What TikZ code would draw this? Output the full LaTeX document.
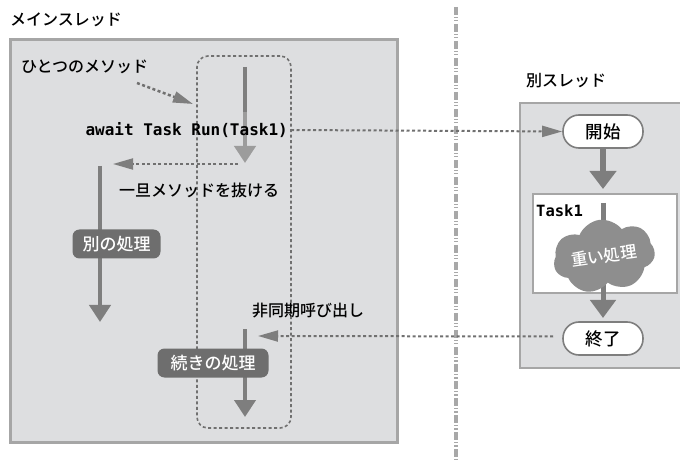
\documentclass[tikz,border=0pt]{standalone}
\usepackage{fontspec}
\setmainfont{Noto Sans CJK JP Medium}
\setmonofont{DejaVu Sans Mono}
\usetikzlibrary{arrows.meta,shapes.symbols}
\definecolor{boxfill}{HTML}{DDDEE0}
\definecolor{boxline}{HTML}{A6A6A6}
\definecolor{arrowgray}{HTML}{7E7E7E}
\definecolor{arrowlight}{HTML}{9C9C9C}
\definecolor{darknode}{HTML}{6E6E6E}
\definecolor{dotgray}{HTML}{707070}
\definecolor{cloudgray}{HTML}{8E8E8E}
\definecolor{divgray}{HTML}{A8A8A8}
\tikzset{
  lbl/.style={font=\fontsize{16}{18}\selectfont, inner sep=0pt, anchor=west},
  container/.style={draw=boxline, fill=boxfill, inner sep=0pt},
  flow/.style={line width=4.5pt, draw=arrowgray, -{Triangle[length=17pt,width=21pt]}},
  flowthick/.style={line width=6pt, draw=arrowgray, -{Triangle[length=18pt,width=26pt]}},
  dotline/.style={line width=2pt, draw=dotgray, dash pattern=on 3pt off 2.5pt},
  dotarrow/.style={dotline, -{Triangle[length=20pt,width=11pt,fill=arrowgray,color=arrowgray]}},
  darkbox/.style={fill=darknode, text=white, rounded corners=7pt, font=\fontsize{17}{19}\selectfont, inner sep=0pt},
  endpoint/.style={draw=arrowgray, fill=white, line width=1.6pt, rounded corners=16pt, minimum width=80pt, minimum height=33pt, inner sep=0pt, font=\fontsize{17.5}{19}\selectfont},
}
\begin{document}
\begin{tikzpicture}[x=1pt,y=-1pt]
\useasboundingbox (0,0) rectangle (680,462);
% divider
\coordinate (d1) at (456,7);
\coordinate (d2) at (456,462);
\draw[divgray, line width=3.5pt, dash pattern=on 8pt off 1.8pt on 1.2pt off 2pt on 1.5pt off 2.5pt] (d1) -- (d2);

% main thread
\node[lbl] (mainttl) at (10,20) {メインスレッド};
\node[container, line width=3pt, minimum width=387pt, minimum height=402pt] (mainbox) at (203.5,241) {};
\node[draw=dotgray, line width=1.6pt, dash pattern=on 3pt off 2.5pt, rounded corners=11pt, minimum width=94pt, minimum height=372pt, inner sep=0pt] (method) at (244,242) {};
\node[lbl] (methodlbl) at (21,67) {ひとつのメソッド};
\coordinate (ma1) at (137,83);
\coordinate (ma2) at (193,104);
\draw[dotarrow, line width=2.5pt] (ma1) -- (ma2);

% await arrow
\coordinate (m1) at (245,67);
\coordinate (mm) at (245,112);
\coordinate (m2) at (245,163);
\draw[line width=4.5pt, draw=arrowgray] (m1) -- (mm);
\draw[line width=4.5pt, draw=arrowlight, -{Triangle[length=17pt,width=21pt]}] (mm) -- (m2);
\node[font=\ttfamily\bfseries\fontsize{16}{18}\selectfont, anchor=east, inner sep=0pt] (await) at (288,130) {await Task Run(Task1)};

% exit
\coordinate (ex1) at (238,164);
\coordinate (ex2) at (113,164);
\draw[dotarrow] (ex1) -- (ex2);
\node[lbl] (leave) at (119,190) {一旦メソッドを抜ける};

% other processing
\coordinate (l1) at (100,166);
\coordinate (l2) at (100,322);
\draw[flow] (l1) -- (l2);
\node[darkbox, minimum width=88pt, minimum height=29pt] (other) at (116.5,244) {別の処理};

% async callback
\node[lbl] (asynclbl) at (252,311) {非同期呼び出し};
\coordinate (c1) at (245,329);
\coordinate (c2) at (245,417);
\draw[flow] (c1) -- (c2);
\node[darkbox, minimum width=111pt, minimum height=29pt] (cont) at (213,363) {続きの処理};

% other thread
\node[lbl] (subttl) at (526,81) {別スレッド};
\node[container, line width=1.6pt, minimum width=166pt, minimum height=265pt] (subbox) at (603,235.5) {};
\node[endpoint] (start) at (603,131.5) {開始};
\node[draw=boxline, fill=white, line width=1.6pt, minimum width=144pt, minimum height=99pt, inner sep=0pt] (task) at (605,243.5) {};
\node[font=\ttfamily\bfseries\fontsize{15.5}{17}\selectfont, anchor=west, inner sep=0pt] (tasklbl) at (536,211) {Task1};
\node[endpoint] (end) at (603,338.5) {終了};

\coordinate (s1) at (603,148);
\coordinate (s2) at (603,189);
\draw[flowthick] (s1) -- (s2);
\coordinate (t1) at (603,203);
\coordinate (t2) at (603,318);
\draw[line width=5pt, draw=arrowgray, -{Triangle[length=18pt,width=25pt]}] (t1) -- (t2);
\node[cloud, cloud puffs=7, cloud puff arc=120, aspect=1.7, fill=cloudgray, minimum width=102pt, minimum height=60pt, inner sep=0pt, rotate=8, text=white, font=\fontsize{16.5}{18}\selectfont] (heavy) at (604,256) {重い処理};

% cross-thread connectors
\draw[dotarrow] (await.east) ++(3,0) coordinate (aw) (aw) -- (start.west);
\coordinate (ret) at (258,336);
\draw[dotarrow] (end.west) ++(-9,-2) coordinate (ew) (ew) -- (ret);
\end{tikzpicture}
\end{document}
